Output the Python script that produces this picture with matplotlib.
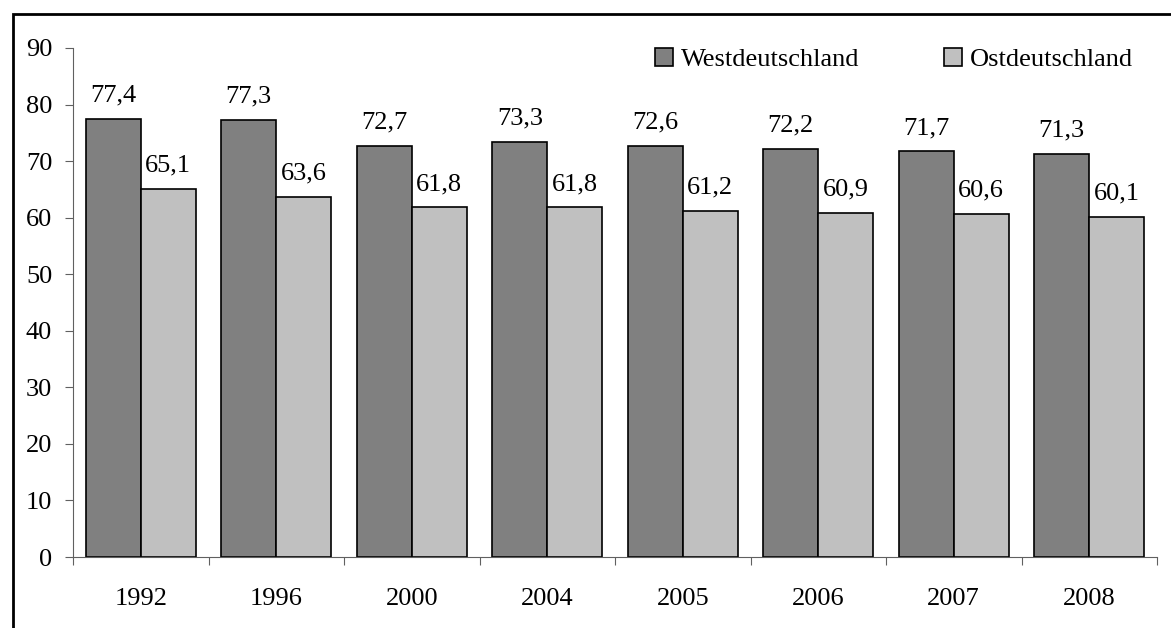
import matplotlib.pyplot as plt
from matplotlib.patches import Rectangle
import numpy as np

plt.rcParams['font.family'] = ['Liberation Serif', 'DejaVu Serif']

years = ['1992', '1996', '2000', '2004', '2005', '2006', '2007', '2008']
west = [77.4, 77.3, 72.7, 73.3, 72.6, 72.2, 71.7, 71.3]
ost = [65.1, 63.6, 61.8, 61.8, 61.2, 60.9, 60.6, 60.1]

FS = 19

fig = plt.figure(figsize=(11.71, 6.28), dpi=100)
ax = fig.add_axes([73/1171, 1 - 557/628, (1157 - 73)/1171, (557 - 48)/628])

# outer frame (runs off the right/bottom edge like in the original)
fig.patches.append(Rectangle((13/1171, -0.05), 1.1, 1 - 14/628 + 0.05,
                             transform=fig.transFigure, fill=False,
                             edgecolor='black', lw=2, clip_on=False))

x = np.arange(len(years))
w = 0.405
b1 = ax.bar(x - w/2, west, w, color='#808080', edgecolor='black', lw=1.2,
            label='Westdeutschland')
b2 = ax.bar(x + w/2, ost, w, color='#c0c0c0', edgecolor='black', lw=1.2,
            label='Ostdeutschland')

for bars, vals in ((b1, west), (b2, ost)):
    for r, v in zip(bars, vals):
        ax.annotate(f'{v:.1f}'.replace('.', ','),
                    (r.get_x() + r.get_width()/2, v),
                    xytext=(0, 9), textcoords='offset points',
                    ha='center', va='bottom', fontsize=FS)

ax.set_xlim(-0.5, len(years) - 0.5)
ax.set_ylim(0, 90)
ax.set_yticks(range(0, 91, 10))
ax.tick_params(axis='y', labelsize=FS, length=6, color='#606060', direction='out', pad=9)

# category ticks sit between the groups, labels in the middle
ax.set_xticks(np.arange(-0.5, len(years)))
ax.set_xticklabels([])
ax.set_xticks(x, minor=True)
ax.set_xticklabels(years, minor=True, fontsize=FS)
ax.tick_params(axis='x', which='major', length=6, color='#606060', direction='out')
ax.tick_params(axis='x', which='minor', length=0, pad=22)

for s in ('top', 'right'):
    ax.spines[s].set_visible(False)
for s in ('left', 'bottom'):
    ax.spines[s].set_color('#606060')

ax.legend(loc='upper left', bbox_to_anchor=(0.515, 1.047), ncol=2, frameon=False,
          fontsize=FS, handlelength=0.68, handleheight=0.68, handletextpad=0.3,
          columnspacing=3.2)

fig.savefig('out.png', dpi=100)
